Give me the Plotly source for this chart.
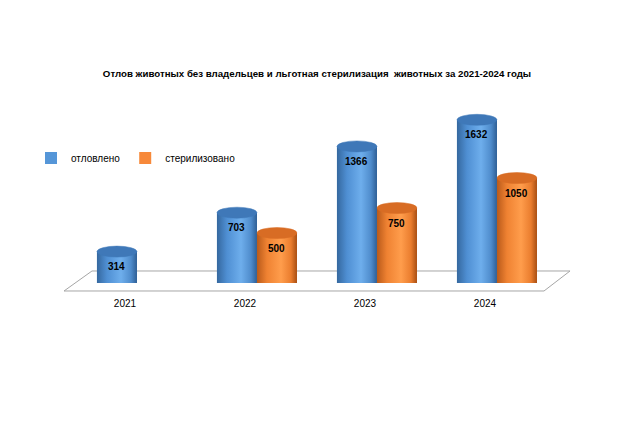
import plotly.graph_objects as go

years = ["2021", "2022", "2023", "2024"]
caught = [314, 703, 1366, 1632]
sterilized = [None, 500, 750, 1050]
series_names = ["отловлено", "стерилизовано"]
title_text = "Отлов животных без владельцев и льготная стерилизация  животных за 2021-2024 годы"

W, H = 640, 427
ML, MR, MT, MB = 64, 96, 100, 144
PW, PH = W - ML - MR, H - MT - MB
YMAX = 1830
XR = [-0.608, 3.392]
BARGAP = 1 / 3
bw = (1 - BARGAP) / 2
units_per_px = YMAX / PH
cap_h = 11 * units_per_px
FONT = "Arial, Liberation Sans"

body = {
    0: dict(color="#5596d8", cap="#3f78b8",
            grad=[[0, "#35689f"], [0.25, "#4f8fd3"], [0.6, "#6eaeec"], [0.85, "#4f8ccc"], [1, "#2f5f95"]]),
    1: dict(color="#f7893a", cap="#d86c24",
            grad=[[0, "#b95a1a"], [0.25, "#ef8232"], [0.6, "#ff9d4c"], [0.85, "#ea7d2e"], [1, "#a84f14"]]),
}

idx = list(range(len(years)))
fig = go.Figure()
for s, (vals, name) in enumerate([(caught, series_names[0]), (sterilized, series_names[1])]):
    fig.add_trace(go.Bar(x=idx, y=vals, name=name, marker=dict(color=body[s]["color"], line=dict(width=0)),
                         hoverinfo="x+y"))

shapes = []
annotations = []
for s, vals in enumerate([caught, sterilized]):
    off = (-0.5 + s) * bw
    for i, v in zip(idx, vals):
        if v is None:
            continue
        x0, x1 = i + off - bw / 2, i + off + bw / 2
        fig.add_trace(go.Scatter(x=[x0, x1, x1, x0, x0], y=[0, 0, v, v, 0], mode="lines",
                                 line=dict(width=0), fill="toself",
                                 fillgradient=dict(type="horizontal", colorscale=body[s]["grad"]),
                                 hoverinfo="skip", showlegend=False))
        shapes.append(dict(type="circle", xref="x", yref="y", x0=x0, x1=x1,
                           y0=-cap_h / 2, y1=cap_h / 2, fillcolor=body[s]["color"],
                           line=dict(width=0), layer="below"))
        shapes.append(dict(type="circle", xref="x", yref="y", x0=x0, x1=x1,
                           y0=v - cap_h / 2, y1=v + cap_h / 2, fillcolor=body[s]["cap"],
                           line=dict(width=0.5, color=body[s]["cap"]), layer="above"))
        annotations.append(dict(x=i + off, y=v, xref="x", yref="y", text=f"<b>{v}</b>",
                                showarrow=False, yshift=-15,
                                font=dict(size=10, color="#000000", family=FONT)))


def px(xp):
    return (xp - ML) / PW


def py(yp):
    return (H - MB - yp) / PH


floor = [(64, 291), (544, 291), (570, 271), (92, 271)]
path = "M " + " L ".join(f"{px(a):.4f},{py(b):.4f}" for a, b in floor) + " Z"
shapes.insert(0, dict(type="path", xref="paper", yref="paper", path=path,
                      fillcolor="white", line=dict(color="#a6a6a6", width=1), layer="below"))

fig.update_layout(
    width=W, height=H,
    margin=dict(l=ML, r=MR, t=MT, b=MB),
    paper_bgcolor="white", plot_bgcolor="rgba(0,0,0,0)",
    barmode="group", bargap=BARGAP, bargroupgap=0,
    title=dict(text=f"<b>{title_text}</b>", x=317 / W, xanchor="center", xref="container",
               y=1 - 74 / H, yanchor="middle", yref="container",
               font=dict(size=9.7, color="#000000", family=FONT)),
    font=dict(family=FONT, size=10, color="#000000"),
    legend=dict(orientation="h", x=px(31), xanchor="left", y=py(158), yanchor="middle",
                font=dict(size=10), itemwidth=30, traceorder="normal",
                bgcolor="rgba(0,0,0,0)"),
    xaxis=dict(range=XR, tickvals=[i - 0.1 for i in idx], ticktext=years, showgrid=False,
               zeroline=False, showline=False, ticks="outside", ticklen=11, tickcolor="rgba(0,0,0,0)",
               tickfont=dict(size=10)),
    yaxis=dict(range=[0, YMAX], visible=False),
    shapes=shapes, annotations=annotations,
    showlegend=True,
)

fig.write_html("out.html")
